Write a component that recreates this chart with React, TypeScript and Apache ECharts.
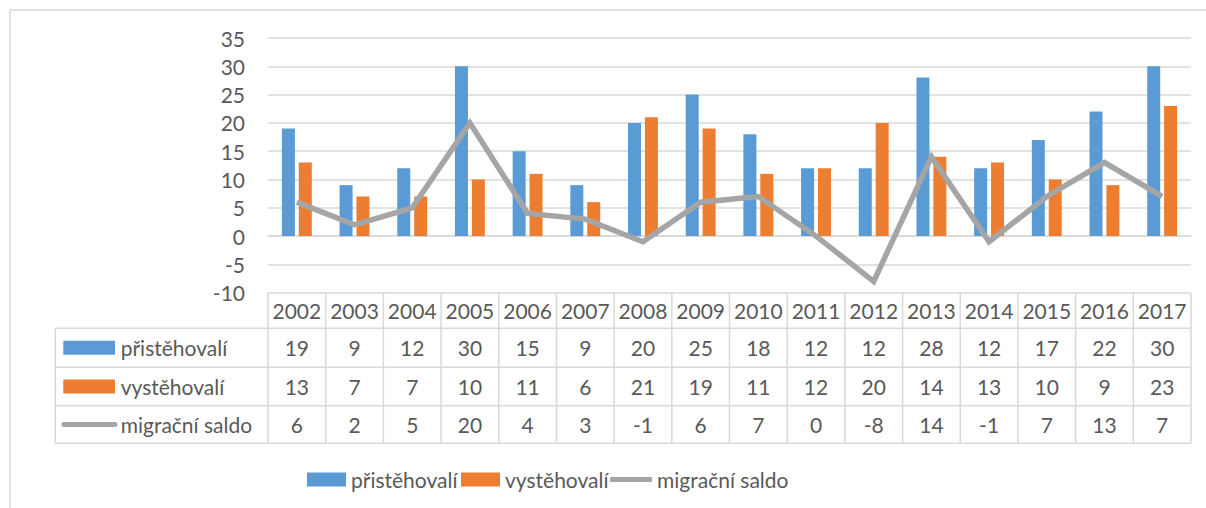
import React, { useEffect, useRef } from "react";
import * as echarts from "echarts";

const years = ["2002","2003","2004","2005","2006","2007","2008","2009","2010","2011","2012","2013","2014","2015","2016","2017"];
const prist = [19, 9, 12, 30, 15, 9, 20, 25, 18, 12, 12, 28, 12, 17, 22, 30];
const vyst = [13, 7, 7, 10, 11, 6, 21, 19, 11, 12, 20, 14, 13, 10, 9, 23];
const saldo = [6, 2, 5, 20, 4, 3, -1, 6, 7, 0, -8, 14, -1, 7, 13, 7];
const seriesNames = ["přistěhovalí", "vystěhovalí", "migrační saldo"];
const colors = ["#5B9BD5", "#ED7D31", "#A5A5A5"];

const FONT = "Lato, 'Noto Sans', sans-serif";
const TXT = "#595959";
const GRID = "#D9D9D9";
const FS = 21;

export default function App() {
  const ref = useRef<HTMLDivElement>(null);
  useEffect(() => {
    const chart = echarts.init(ref.current!, undefined, { renderer: "svg" });
    const legendBase = {
      orient: "horizontal",
      top: 469,
      padding: 0,
      itemGap: 0,
      textStyle: { fontSize: FS, color: TXT, fontFamily: FONT },
    };
    chart.setOption({
      animation: false,
      backgroundColor: "#FFFFFF",
      color: colors,
      textStyle: { fontFamily: FONT },
      grid: { left: 268, right: 15, top: 38, bottom: 215.3 },
      legend: [
        { ...legendBase, left: 307, data: [seriesNames[0]], itemWidth: 39, itemHeight: 14, icon: "rect" },
        { ...legendBase, left: 461, data: [seriesNames[1]], itemWidth: 39, itemHeight: 14, icon: "rect" },
        { ...legendBase, left: 610, data: [seriesNames[2]], itemWidth: 42, itemHeight: 5, icon: "roundRect" },
      ],
      xAxis: {
        type: "category",
        data: years,
        axisLine: { show: true, lineStyle: { color: GRID, width: 1.5 } },
        axisTick: { show: false },
        axisLabel: { show: false },
      },
      yAxis: {
        type: "value",
        min: -10,
        max: 35,
        interval: 5,
        axisLine: { show: false },
        axisTick: { show: false },
        axisLabel: { fontSize: FS, color: TXT, fontFamily: FONT, margin: 23 },
        splitLine: { lineStyle: { color: GRID, width: 1.5 } },
      },
      series: [
        { name: seriesNames[0], type: "bar", data: prist, barWidth: 13, barGap: "30%", itemStyle: { color: colors[0] } },
        { name: seriesNames[1], type: "bar", data: vyst, barWidth: 13, barGap: "30%", itemStyle: { color: colors[1] } },
        {
          name: seriesNames[2], type: "line", data: saldo, symbol: "none", showSymbol: false,
          lineStyle: { color: colors[2], width: 5.5, join: "miter" }, itemStyle: { color: colors[2] }, z: 5,
        },
      ],
    });

    const c0 = chart.convertToPixel({ xAxisIndex: 0 }, 0) as number;
    const c1 = chart.convertToPixel({ xAxisIndex: 0 }, 1) as number;
    const w = c1 - c0;
    const left = c0 - w / 2;
    const right = left + w * years.length;
    const top = chart.convertToPixel({ yAxisIndex: 0 }, -10) as number;
    const rows = [top, top + 35.6, top + 74.6, top + 113, top + 150.6];
    const tableLeft = 55.3;
    const lineStyle = { stroke: GRID, lineWidth: 1.5 };
    const g: any[] = [];
    g.push({ type: "rect", shape: { x: 10, y: 10, width: 1400, height: 800 }, style: { fill: "none", stroke: GRID, lineWidth: 1.5 }, silent: true });
    for (let i = 0; i <= years.length; i++) {
      const x = left + i * w;
      g.push({ type: "line", shape: { x1: x, y1: rows[0], x2: x, y2: rows[4] }, style: lineStyle });
    }
    g.push({ type: "line", shape: { x1: tableLeft, y1: rows[1], x2: tableLeft, y2: rows[4] }, style: lineStyle });
    for (let r = 1; r <= 4; r++) {
      g.push({ type: "line", shape: { x1: tableLeft, y1: rows[r], x2: right, y2: rows[r] }, style: lineStyle });
    }
    const cellText = (x: number, y: number, t: string, align = "center") => ({
      type: "text", x, y,
      style: { text: t, fontSize: FS, fill: TXT, fontFamily: FONT, align, verticalAlign: "middle" },
    });
    const rowData = [years, prist.map(String), vyst.map(String), saldo.map(String)];
    for (let r = 0; r < 4; r++) {
      const yc = (rows[r] + rows[r + 1]) / 2;
      for (let i = 0; i < years.length; i++) {
        const xc = chart.convertToPixel({ xAxisIndex: 0 }, i) as number;
        g.push(cellText(xc, yc, rowData[r][i]));
      }
    }
    for (let r = 1; r <= 3; r++) {
      const yc = (rows[r] + rows[r + 1]) / 2;
      if (r < 3) {
        g.push({ type: "rect", shape: { x: 63.3, y: yc - 7, width: 51.7, height: 14 }, style: { fill: colors[r - 1] } });
      } else {
        g.push({ type: "line", shape: { x1: 64, y1: yc, x2: 115, y2: yc }, style: { stroke: colors[2], lineWidth: 5, lineCap: "round" } });
      }
      g.push(cellText(120.7, yc, seriesNames[r - 1], "left"));
    }
    chart.setOption({ graphic: { elements: g } });
    return () => chart.dispose();
  }, []);
  return <div ref={ref} style={{ position: "absolute", left: 0, top: 0, width: 1206, height: 508 }} />;
}
